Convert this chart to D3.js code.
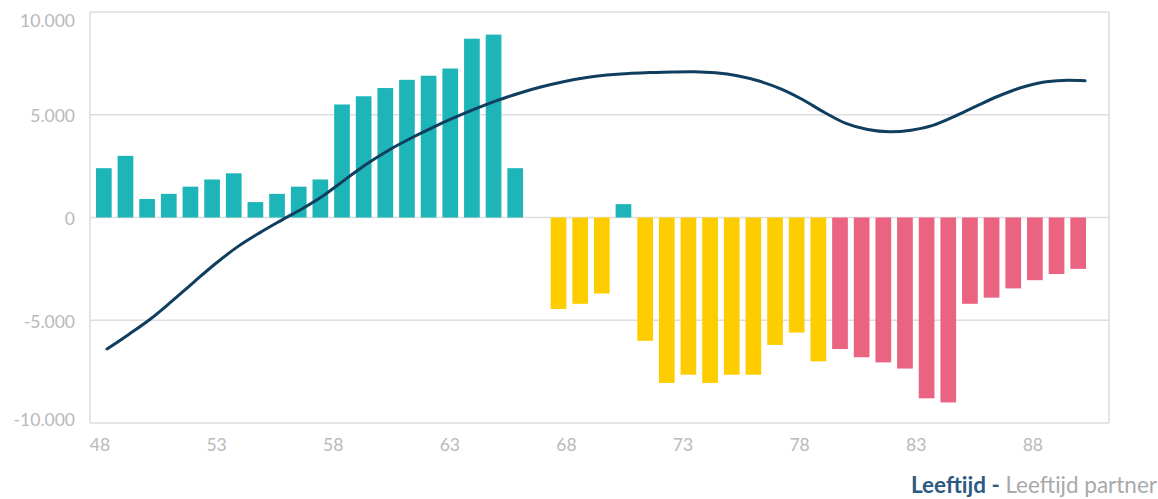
<!DOCTYPE html>
<html>
<head>
<meta charset="utf-8">
<script src="https://cdn.jsdelivr.net/npm/d3@7/dist/d3.min.js"></script>
<style>
  html, body { margin: 0; padding: 0; background: #fff; }
  svg { display: block; font-family: Lato, "Open Sans", sans-serif; }
</style>
</head>
<body>
<svg id="chart" width="1158" height="499"></svg>
<script>
// ---------- data ----------
const barValues = [2400, 3000, 900, 1150, 1500, 1850, 2150, 750, 1150, 1500,
  1850, 5500, 5900, 6300, 6700, 6900, 7250, 8700, 8900, 2400,
  null, -4450, -4200, -3700, 650, -6000, -8050, -7650, -8050, -7650,
  -7650, -6200, -5600, -7000, -6400, -6800, -7050, -7350, -8800, -9000,
  -4200, -3900, -3450, -3050, -2750, -2500];
const barGroups = ["a","a","a","a","a","a","a","a","a","a",
  "a","a","a","a","a","a","a","a","a","a",
  "a","b","b","b","a","b","b","b","b","b",
  "b","b","b","b","c","c","c","c","c","c",
  "c","c","c","c","c","c"];
const lineValues = [-6400, -5690, -4940, -4060, -3140, -2240, -1430, -760, -150, 440,
  1100, 1880, 2640, 3300, 3870, 4390, 4870, 5310, 5710, 6060,
  6360, 6610, 6800, 6930, 7010, 7050, 7080, 7090, 7040, 6900,
  6640, 6260, 5740, 5120, 4580, 4280, 4170, 4250, 4480, 4920,
  5420, 5900, 6300, 6570, 6670, 6650];
const xTickLabels = [48, 53, 58, 63, 68, 73, 78, 83, 88];
const yTickValues = [-10000, -5000, 0, 5000, 10000];
const legendParts = ["Leeftijd", " - ", "Leeftijd partner"];

// ---------- styles ----------
const colors = { a: "#1eb5b8", b: "#fdcd00", c: "#ea6381" };
const lineColor = "#0f3e5f";
const gridColor = "#dedede";
const labelColor = "#b9b9b9";

const svg = d3.select("#chart");
const plot = { left: 90, right: 1109, top: 12, bottom: 423 };

const y = d3.scaleLinear().domain([-10000, 10000]).range([plot.bottom, plot.top]);
const idx = d3.range(barValues.length);
const xBar = d3.scaleBand().domain(idx).range([93, 1089])
  .paddingInner(0.275).paddingOuter(0.1375);
const xLine = d3.scalePoint().domain(idx).range([107, 1085]);
const xAxisScale = d3.scaleLinear().domain([48, 88]).range([100, 1032.8]);

const locale = d3.formatLocale({ decimal: ",", thousands: ".", grouping: [3], currency: ["€", ""], minus: "-" });
const fmt = locale.format(",d");

// grid lines
svg.append("g").selectAll("line").data(yTickValues).join("line")
  .attr("x1", plot.left).attr("x2", plot.right)
  .attr("y1", d => y(d)).attr("y2", d => y(d))
  .attr("stroke", gridColor).attr("stroke-width", 1.6);
// frame verticals
svg.append("g").selectAll("line").data([plot.left, plot.right]).join("line")
  .attr("x1", d => d).attr("x2", d => d)
  .attr("y1", plot.top).attr("y2", plot.bottom)
  .attr("stroke", gridColor).attr("stroke-width", 1.6);

// y labels
svg.append("g").selectAll("text").data(yTickValues).join("text")
  .attr("x", 75)
  .attr("y", d => Math.max(Math.min(y(d) + 1.5, 419.5), 20.5))
  .attr("dy", "0.35em")
  .attr("text-anchor", "end")
  .attr("fill", labelColor)
  .attr("font-size", 17.5)
  .text(d => fmt(d));

// x labels
svg.append("g").selectAll("text").data(xTickLabels).join("text")
  .attr("x", d => xAxisScale(d))
  .attr("y", 445)
  .attr("dy", "0.35em")
  .attr("text-anchor", "middle")
  .attr("fill", labelColor)
  .attr("font-size", 17.5)
  .text(d => d);

// bars
svg.append("g").selectAll("rect")
  .data(idx.filter(i => barValues[i] != null))
  .join("rect")
  .attr("x", i => xBar(i))
  .attr("width", xBar.bandwidth())
  .attr("y", i => y(Math.max(0, barValues[i])))
  .attr("height", i => Math.abs(y(barValues[i]) - y(0)))
  .attr("fill", i => colors[barGroups[i]]);

// line
const line = d3.line()
  .x((d, i) => xLine(i))
  .y(d => y(d))
  .curve(d3.curveCatmullRom.alpha(0.5));
svg.append("path")
  .datum(lineValues)
  .attr("d", line)
  .attr("fill", "none")
  .attr("stroke", lineColor)
  .attr("stroke-width", 3)
  .attr("stroke-linecap", "round");

// legend text
const legend = svg.append("text")
  .attr("x", 1157).attr("y", 493)
  .attr("text-anchor", "end")
  .attr("font-size", 22.5)
  .attr("xml:space", "preserve");
legend.append("tspan").text(legendParts[0]).attr("fill", "#2d5a82").attr("font-weight", 700);
legend.append("tspan").text(legendParts[1]).attr("fill", "#2d5a82").attr("font-weight", 700);
legend.append("tspan").text(legendParts[2]).attr("fill", "#a9a9a9");
</script>
</body>
</html>
